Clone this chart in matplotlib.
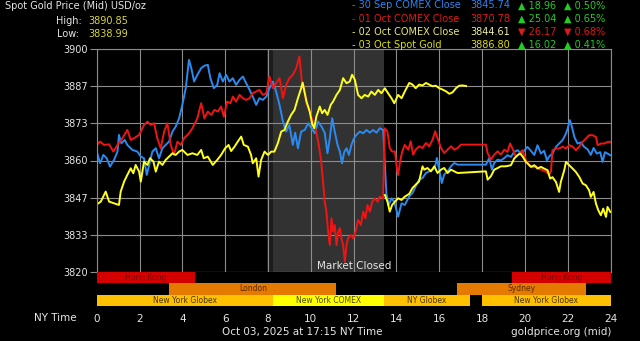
import matplotlib
matplotlib.use('Agg')
import matplotlib.pyplot as plt

# ---------------- data ----------------
blue_h = [0.00,0.16,0.31,0.47,0.62,0.81,0.97,1.04,1.15,1.31,1.43,1.67,1.90,2.06,2.21,2.34,2.45,2.60,2.76,2.91,
          3.07,3.22,3.38,3.54,3.69,3.85,4.00,4.16,4.31,4.42,4.55,4.70,4.88,5.03,5.19,5.31,5.47,5.63,5.74,5.89,
          6.05,6.20,6.36,6.51,6.67,6.83,6.98,7.14,7.29,7.45,7.60,7.76,7.92,8.07,8.23,8.38,8.54,8.70,8.85,9.00,
          9.16,9.27,9.40,9.55,9.72,9.88,10.03,10.19,10.34,10.50,10.65,10.78,10.89,11.00,11.12,11.25,11.36,11.46,
          11.56,11.67,11.78,11.90,12.02,12.13,12.29,12.45,12.60,12.76,12.91,13.07,13.22,13.38,13.53,13.64,13.77,
          13.90,14.08,14.24,14.39,14.60,14.75,14.90,15.06,15.22,15.38,15.53,15.69,15.81,15.89,16.00,16.12,16.23,
          16.39,16.55,16.70,16.86,18.18,18.26,18.34,18.46,18.57,18.73,18.88,19.04,19.19,19.35,19.50,19.66,19.81,
          19.97,20.12,20.28,20.44,20.59,20.75,20.90,21.03,21.14,21.29,21.45,21.60,21.76,21.92,22.00,22.10,22.20,
          22.31,22.46,22.62,22.77,22.93,23.08,23.21,23.36,23.52,23.63,23.74,23.86,23.99]
blue_v = [3863.2,3859.0,3862.0,3860.8,3857.8,3860.2,3863.2,3869.2,3866.2,3867.4,3865.6,3863.8,3863.2,3861.4,3860.8,3854.8,3858.4,3863.2,3864.4,3860.8,
          3864.4,3865.6,3866.8,3870.4,3872.2,3875.2,3880.0,3886.0,3896.2,3893.2,3888.4,3890.8,3893.2,3894.1,3894.4,3889.6,3886.0,3887.2,3891.4,3888.4,
          3890.8,3888.4,3889.6,3887.2,3889.0,3890.2,3887.8,3885.4,3883.0,3880.0,3882.4,3881.8,3883.0,3886.0,3888.4,3884.8,3880.0,3874.0,3870.4,3872.8,
          3865.6,3870.0,3864.4,3870.4,3871.0,3873.4,3871.6,3869.8,3874.0,3872.2,3870.0,3862.6,3868.0,3875.2,3870.4,3865.6,3863.2,3859.0,
          3863.0,3864.4,3862.0,3865.6,3868.0,3869.2,3870.4,3869.8,3871.0,3870.0,3871.0,3870.0,3871.6,3871.0,3848.2,3844.0,3846.4,
          3845.2,3839.8,3844.6,3844.0,3847.1,3848.3,3850.7,3853.1,3853.7,3855.5,3856.1,3856.7,3857.9,3860.9,3856.7,3851.9,3854.9,
          3856.1,3857.9,3859.1,3858.5,3858.5,3859.7,3860.9,3856.7,3859.1,3860.3,3860.0,3860.9,3861.9,3861.3,3863.1,3863.7,3862.5,
          3863.5,3864.9,3863.5,3862.0,3865.5,3862.5,3863.5,3860.1,3861.5,3862.5,3864.9,3866.1,3867.3,3869.7,3871.5,3874.5,3872.1,
          3868.5,3866.1,3866.5,3864.9,3864.0,3862.0,3864.5,3862.5,3863.0,3859.5,3863.0,3862.5,3861.9]

red_h = [0.00,0.16,0.34,0.58,0.78,0.97,1.20,1.43,1.59,1.74,1.98,2.21,2.37,2.52,2.68,2.83,2.99,3.15,3.30,3.46,
         3.61,3.77,3.93,4.08,4.31,4.47,4.70,4.88,5.03,5.19,5.35,5.50,5.66,5.81,5.94,6.09,6.25,6.36,6.51,6.67,
         6.83,6.98,7.14,7.29,7.45,7.60,7.76,7.92,8.07,8.23,8.38,8.54,8.70,8.85,9.00,9.16,9.32,9.47,9.58,9.64,
         9.80,9.95,10.10,10.26,10.37,10.47,10.53,10.60,10.65,10.73,10.81,10.89,10.97,11.04,11.12,11.20,11.28,
         11.36,11.43,11.51,11.59,11.67,11.74,11.87,11.98,12.09,12.21,12.34,12.45,12.55,12.65,12.76,12.87,12.99,
         13.12,13.22,13.38,13.46,13.58,13.69,13.80,13.93,14.00,14.08,14.17,14.27,14.39,14.56,14.67,14.78,14.90,
         15.06,15.22,15.38,15.53,15.69,15.81,15.92,16.08,16.23,16.39,16.55,16.70,16.86,17.01,18.18,18.26,18.41,
         18.57,18.73,18.88,19.04,19.19,19.31,19.42,19.58,19.74,19.89,20.05,20.20,20.36,20.51,20.67,20.83,20.98,
         21.14,21.22,21.29,21.45,21.60,21.76,21.92,22.07,22.23,22.38,22.54,22.70,22.85,23.00,23.16,23.32,23.40,
         23.55,23.71,23.86,23.99]
red_v = [3865.6,3866.8,3865.6,3865.8,3863.2,3865.6,3868.0,3871.0,3867.4,3868.0,3869.2,3872.8,3874.0,3872.8,3873.4,3868.0,3864.4,3870.4,3873.4,3865.6,
         3862.0,3866.8,3865.6,3868.0,3869.8,3871.6,3875.2,3880.6,3875.2,3877.6,3876.4,3878.2,3877.6,3879.4,3875.8,3881.2,3880.6,3883.0,3881.2,3883.6,
         3882.4,3881.8,3882.4,3884.2,3884.8,3885.4,3883.6,3884.2,3890.2,3886.0,3887.8,3889.6,3882.4,3887.2,3889.6,3890.8,3893.2,3897.4,3888.4,3887.2,
         3880.6,3877.6,3874.0,3870.4,3865.6,3860.8,3856.0,3850.0,3845.2,3841.6,3834.4,3829.6,3839.2,3834.4,3836.8,3829.6,3834.4,
         3835.6,3832.0,3829.6,3823.6,3829.6,3832.0,3833.2,3832.0,3834.4,3838.6,3836.8,3841.6,3839.2,3844.0,3841.6,3845.2,3846.4,
         3845.2,3847.0,3846.4,3871.6,3870.4,3864.4,3863.2,3863.2,3858.4,3854.8,3859.6,3863.2,3865.6,3863.9,3866.9,3862.1,3863.9,
         3865.1,3864.5,3866.3,3865.1,3867.5,3870.5,3868.1,3864.5,3862.7,3863.9,3865.1,3863.9,3864.5,3865.7,3865.7,3862.7,3860.3,
         3862.1,3863.3,3862.1,3863.9,3863.1,3866.1,3864.3,3861.3,3862.5,3863.7,3860.0,3858.5,3857.5,3858.0,3857.0,3856.5,3856.0,
         3855.0,3856.0,3863.7,3864.3,3864.3,3865.0,3864.3,3865.5,3865.0,3863.7,3865.0,3866.7,3867.9,3869.1,3869.1,3868.5,3865.5,
         3866.1,3866.1,3866.7,3866.7]

yel_today_h = [0.00,0.19,0.42,0.58,0.81,1.04,1.12,1.28,1.43,1.59,1.71,1.82,1.98,2.06,2.21,2.37,2.49,2.65,2.76,2.91,
               3.07,3.22,3.38,3.54,3.69,3.85,4.00,4.24,4.47,4.70,4.88,5.00,5.19,5.42,5.63,5.81,6.00,6.16,6.28,6.44,
               6.59,6.75,6.87,7.06,7.21,7.29,7.45,7.56,7.68,7.84,8.00,8.15,8.30,8.46,8.62,8.77,8.93,9.08,9.24,9.40,
               9.55,9.62,9.80,9.95,10.06,10.16,10.26,10.42,10.53,10.65,10.78,10.93,11.04,11.20,11.36,11.51,11.67,11.82,
               11.93,12.06,12.21,12.37,12.52,12.68,12.83,12.99,13.15,13.30,13.46,13.61,13.77,13.90,14.08,14.24,14.39,
               14.60,14.75,14.90,15.06,15.22,15.38,15.53,15.69,15.84,16.00,16.16,16.31,16.47,16.62,16.78,16.93,17.09,17.25]
yel_today_v = [3844.2,3845.2,3848.8,3845.2,3844.6,3844.0,3848.8,3852.4,3854.8,3857.2,3855.4,3858.4,3856.0,3852.4,3859.6,3858.4,3860.8,3859.6,3856.0,3859.6,
               3858.4,3860.2,3861.4,3862.6,3862.0,3863.2,3863.8,3862.0,3862.6,3862.0,3863.8,3860.8,3861.4,3858.4,3860.2,3862.0,3864.4,3865.6,3863.4,3865.0,
               3866.8,3868.6,3865.6,3865.0,3862.0,3859.0,3860.8,3854.2,3860.2,3863.2,3862.0,3863.2,3863.2,3866.2,3870.4,3871.0,3874.0,3876.4,3878.2,3882.4,
               3886.0,3888.0,3881.2,3877.6,3873.4,3871.6,3875.8,3879.4,3877.0,3878.2,3876.4,3880.0,3881.2,3883.6,3885.4,3889.6,3887.8,3888.4,
               3890.85,3889.0,3883.6,3882.4,3883.6,3883.0,3884.8,3883.6,3885.4,3884.2,3886.0,3884.2,3882.4,3880.6,3883.6,3882.4,3884.8,
               3887.9,3887.3,3886.0,3887.3,3887.0,3887.9,3887.3,3886.7,3886.9,3886.0,3885.5,3884.9,3884.0,3884.5,3886.0,3886.9,3887.0,3886.8]

yel_prev_h = [13.46,13.58,13.69,13.80,13.93,14.08,14.24,14.39,14.60,14.75,14.90,15.06,15.22,15.30,15.45,15.61,15.77,15.92,
              16.08,16.23,16.39,16.55,16.70,16.86,18.18,18.26,18.41,18.57,18.73,18.88,19.10,19.35,19.50,19.66,19.78,19.89,
              20.05,20.12,20.28,20.44,20.59,20.75,20.90,21.06,21.18,21.29,21.45,21.60,21.68,21.84,21.92,22.07,22.23,22.38,
              22.54,22.70,22.85,23.00,23.08,23.21,23.32,23.43,23.55,23.66,23.79,23.86,23.99]
yel_prev_v = [3847.6,3845.2,3841.6,3844.0,3845.2,3846.4,3845.8,3847.0,3848.0,3850.1,3851.3,3852.5,3857.9,3856.7,3857.3,3856.1,3857.9,3855.5,
              3856.7,3857.3,3855.5,3856.7,3856.1,3855.5,3856.1,3853.1,3854.3,3856.7,3857.3,3857.9,3857.9,3858.3,3860.7,3861.9,3862.5,3861.5,
              3859.5,3859.0,3857.7,3858.3,3857.1,3857.7,3857.1,3856.5,3853.5,3854.0,3852.3,3848.7,3852.3,3856.5,3859.5,3858.3,3857.1,3855.9,
              3854.1,3851.7,3851.1,3849.3,3846.9,3848.7,3844.5,3842.1,3840.3,3842.7,3839.7,3843.3,3841.5]

y_ticks = [3820, 3833.333, 3846.667, 3860, 3873.333, 3886.667, 3900]
y_tick_labels = ['3820', '3833', '3847', '3860', '3873', '3887', '3900']
x_ticks = list(range(0, 25, 2))

closed_start, closed_end = 8.22, 13.42
pre_start = 7.97

sess_names = ['Hong Kong', 'Hong Kong', 'London', 'Sydney', 'New York Globex', 'New York COMEX', 'NY Globex', 'New York Globex']
sess_start = [0.0, 19.42, 3.4, 16.84, 0.0, 8.25, 13.42, 18.0]
sess_end = [4.6, 24.0, 11.18, 22.86, 8.25, 13.42, 17.44, 24.0]
sess_row = [2, 2, 1, 1, 0, 0, 0, 0]
sess_color = ['#d40000', '#d40000', '#e57a00', '#e57a00', '#ffc000', '#ffff00', '#ffc000', '#ffc000']
sess_text = ['#7a0000', '#7a0000', '#5a2800', '#5a2800', '#4a3300', '#4a4a00', '#4a3300', '#4a3300']

legend_labels = ['- 30 Sep COMEX Close', '- 01 Oct COMEX Close', '- 02 Oct COMEX Close', '- 03 Oct Spot Gold']
legend_values = ['3845.74', '3870.78', '3844.61', '3886.80']
legend_change = ['\u25b2 18.96', '\u25b2 25.04', '\u25bc 26.17', '\u25b2 16.02']
legend_pct = ['\u25b2 0.50%', '\u25b2 0.65%', '\u25bc 0.68%', '\u25b2 0.41%']
legend_lab_col = ['#2f86f0', '#e01818', '#e8e870', '#e0e000']
legend_val_col = ['#2f86f0', '#e01818', '#eeeea0', '#e0e000']
legend_chg_col = ['#22cc22', '#22cc22', '#e01818', '#22cc22']

# ---------------- figure ----------------
W, H = 640, 341
fig = plt.figure(figsize=(6.4, 3.41), dpi=100, facecolor='black')
plt.rcParams['font.family'] = ['DejaVu Sans']

def fx(px):
    return px / W

def fy(py):
    return 1 - py / H

grid_col = '#8c8c8c'
ax = fig.add_axes([fx(96.7), fy(271.7), fx(610.5) - fx(96.7), fy(49.3) - fy(271.7)])
ax.set_facecolor('black')
ax.set_xlim(0, 24)
ax.set_ylim(3820, 3900)
ax.set_xticks(x_ticks)
ax.set_yticks(y_ticks)
ax.set_yticklabels(y_tick_labels)
ax.tick_params(axis='x', length=0, labelbottom=False)
ax.tick_params(axis='y', length=5, width=0.8, color=grid_col, labelcolor='#e6e6e6', labelsize=7, pad=1.5)
ax.set_axisbelow(True)
ax.grid(True, color=grid_col, lw=0.8)
for s in ax.spines.values():
    s.set_color(grid_col)
    s.set_linewidth(0.8)

ax.axvspan(pre_start, closed_start, color='#1c1c1c', zorder=0.2, lw=0)
ax.axvspan(closed_start, closed_end, color='#323232', zorder=0.2, lw=0)

lw = 1.4
ax.plot(blue_h, blue_v, color='#2b8af0', lw=lw, zorder=2)
ax.plot(red_h, red_v, color='#f01414', lw=lw, zorder=2.1)
ax.plot(yel_prev_h, yel_prev_v, color='#ffff1a', lw=lw, zorder=2.2)
ax.plot(yel_today_h, yel_today_v, color='#ffff1a', lw=lw, zorder=2.3)

ax.text(12.04, 3821.9, 'Market Closed', color='#e6e6e6', fontsize=7.5, ha='center', va='center', zorder=3)

# sessions axis
ax2 = fig.add_axes([fx(96.7), fy(306), fx(610.5) - fx(96.7), fy(271.7) - fy(306)])
ax2.set_facecolor('black')
ax2.set_xlim(0, 24)
ax2.set_ylim(0, 3)
for s in ax2.spines.values():
    s.set_visible(False)
ax2.set_yticks([])
ax2.set_xticks(x_ticks)
ax2.set_xticklabels([str(t) for t in x_ticks])
ax2.tick_params(axis='x', length=0, labelcolor='#e6e6e6', labelsize=7.5, pad=6)
for n, s0, s1, r, c, tc in zip(sess_names, sess_start, sess_end, sess_row, sess_color, sess_text):
    ax2.barh(r + 0.5, s1 - s0, left=s0, height=1.0, color=c, lw=0)
    ax2.text((s0 + s1) / 2, r + 0.5, n, color=tc, fontsize=5.5, ha='center', va='center')

# texts
txt = '#e6e6e6'
fig.text(fx(5), fy(6), 'Spot Gold Price (Mid) USD/oz', color=txt, fontsize=7, ha='left', va='center')
fig.text(fx(82), fy(20.7), 'High:', color=txt, fontsize=7, ha='right', va='center')
fig.text(fx(88.3), fy(20.7), '3890.85', color='#d8d838', fontsize=7, ha='left', va='center')
fig.text(fx(79.5), fy(34.3), 'Low:', color=txt, fontsize=7, ha='right', va='center')
fig.text(fx(88.3), fy(34.3), '3838.99', color='#d8d838', fontsize=7, ha='left', va='center')

rows_y = [5.5, 18.6, 31.8, 44.6]
for i in range(4):
    y = fy(rows_y[i])
    fig.text(fx(351.5), y, legend_labels[i], color=legend_lab_col[i], fontsize=7, ha='left', va='center')
    fig.text(fx(470.5), y, legend_values[i], color=legend_val_col[i], fontsize=7, ha='left', va='center')
    fig.text(fx(518), y, legend_change[i], color=legend_chg_col[i], fontsize=7, ha='left', va='center')
    fig.text(fx(563.5), y, legend_pct[i], color=legend_chg_col[i], fontsize=7, ha='left', va='center')

fig.text(fx(55), fy(318.3), 'NY Time', color=txt, fontsize=7.5, ha='center', va='center')
fig.text(fx(302), fy(332.3), 'Oct 03, 2025 at 17:15 NY Time', color=txt, fontsize=7.5, ha='center', va='center')
fig.text(fx(611), fy(332.3), 'goldprice.org (mid)', color=txt, fontsize=7.5, ha='right', va='center')

fig.savefig('out.png', dpi=100, facecolor='black')
